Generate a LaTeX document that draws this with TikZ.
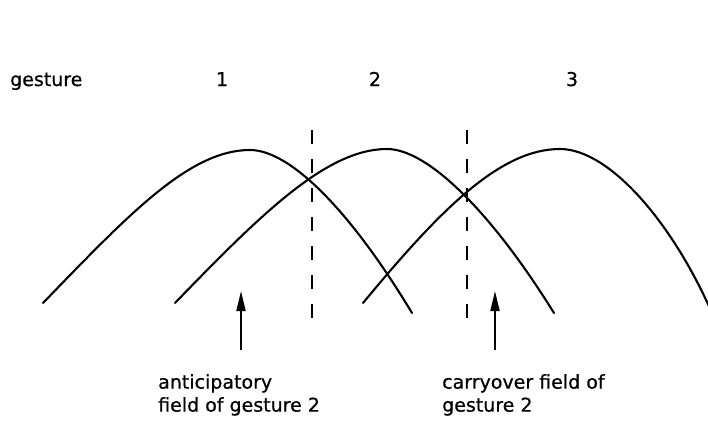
\documentclass[tikz,border=0pt]{standalone}
\usepackage{fontspec}
\setmainfont{DejaVu Sans}
\newfontfamily\lblfont{DejaVu Sans}[FakeBold=0.7]
\usetikzlibrary{arrows.meta}
\begin{document}
\begin{tikzpicture}[x=1pt,y=-1pt,
  curve/.style={line width=2.1pt, line cap=round},
  divider/.style={line width=2.2pt, dash pattern=on 14pt off 15pt},
  fieldarrow/.style={line width=2pt, -{Triangle[length=20pt,width=9pt]}},
  lbl/.style={font=\lblfont\fontsize{19}{23}\selectfont, inner sep=0pt},
  ann/.style={lbl, align=left, anchor=north west}]
\useasboundingbox (0,0) rectangle (708,421);
% labels
\node[lbl, anchor=base west] (g) at (10,86) {gesture};
\node[lbl, anchor=base] (n1) at (222,86) {1};
\node[lbl, anchor=base] (n2) at (375,86) {2};
\node[lbl, anchor=base] (n3) at (572,86) {3};
% curves
\draw[curve] (43,303) .. controls (130,213) and (190,150) .. (250,150)
                      .. controls (290,150) and (350,210) .. (412,313);
\draw[curve] (175,303) .. controls (262,213) and (327,149) .. (387,149)
                       .. controls (427,149) and (490,210) .. (554,313);
\draw[curve] (363,303) .. controls (440,210) and (500,149) .. (560,149)
                       .. controls (610,149) and (675,225) .. (715,320);
% dashed dividers
\coordinate (d1t) at (312,130); \coordinate (d1b) at (312,318);
\coordinate (d2t) at (467,130); \coordinate (d2b) at (467,318);
\draw[divider] (d1t) -- (d1b);
\draw[divider] (d2t) -- (d2b);
% arrows and annotations
\coordinate (a1s) at (241,350); \coordinate (a1e) at (241,291);
\coordinate (a2s) at (495,350); \coordinate (a2e) at (495,291);
\draw[fieldarrow] (a1s) -- (a1e);
\draw[fieldarrow] (a2s) -- (a2e);
\node[ann] (antic) at (158,374) {anticipatory\\field of gesture 2};
\node[ann] (carry) at (442,374) {carryover field of\\gesture 2};
\end{tikzpicture}
\end{document}
